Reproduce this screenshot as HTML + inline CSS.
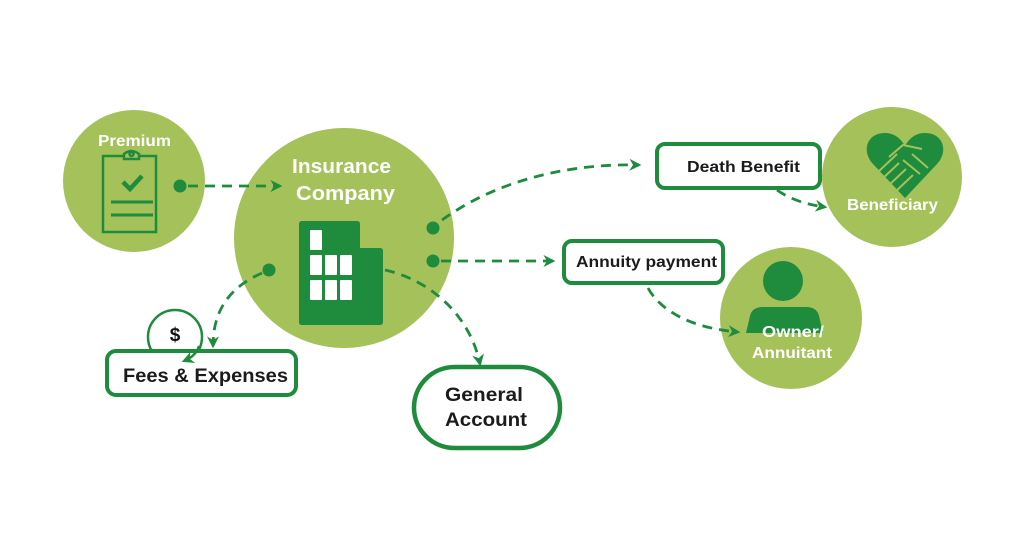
<!DOCTYPE html>
<html><head><meta charset="utf-8"><style>
html,body{margin:0;padding:0;background:#fff;}
svg{display:block;}
text{font-family:"Liberation Sans",Arial,sans-serif;font-weight:bold;}
</style></head><body>
<svg width="1024" height="546" viewBox="0 0 1024 546" xmlns="http://www.w3.org/2000/svg">
<defs>
<marker id="ah" viewBox="0 0 10 10" refX="8" refY="5" markerWidth="12" markerHeight="12" markerUnits="userSpaceOnUse" orient="auto">
<path d="M0,0 L10,5 L0,10 L3,5 Z" fill="#1e8b3d"/>
</marker>
</defs>
<rect width="1024" height="546" fill="#fff"/>

<!-- circles -->
<circle cx="134" cy="181" r="71" fill="#a5c15a"/>
<circle cx="344" cy="238" r="110" fill="#a5c15a"/>
<circle cx="892" cy="177" r="70" fill="#a5c15a"/>
<circle cx="791" cy="318" r="71" fill="#a5c15a"/>

<!-- Premium clipboard -->
<g fill="none" stroke="#1e8b3d" stroke-width="2.5">
<path d="M124,156 L103,156 L103,232 L156,232 L156,156 L139,156"/>
<path d="M124,159 L124,154 Q131,148 139,154 L139,159 Z"/>
<circle cx="131.5" cy="154" r="2"/>
</g>
<path d="M123,182 L130,189 L142,176" fill="none" stroke="#1e8b3d" stroke-width="4.5"/>
<line x1="111" y1="202" x2="153" y2="202" stroke="#1e8b3d" stroke-width="3"/>
<line x1="111" y1="215" x2="153" y2="215" stroke="#1e8b3d" stroke-width="3"/>
<text x="134.5" y="146" font-size="16" fill="#fff" text-anchor="middle" textLength="73" lengthAdjust="spacingAndGlyphs">Premium</text>

<!-- Insurance Company -->
<text x="341.5" y="173" font-size="20" fill="#fff" text-anchor="middle" textLength="99" lengthAdjust="spacingAndGlyphs">Insurance</text>
<text x="345.5" y="200" font-size="20" fill="#fff" text-anchor="middle" textLength="99" lengthAdjust="spacingAndGlyphs">Company</text>
<path d="M302,221 L357,221 Q360,221 360,224 L360,248 L380,248 Q383,248 383,251 L383,322 Q383,325 380,325 L302,325 Q299,325 299,322 L299,224 Q299,221 302,221 Z" fill="#1e8b3d"/>
<g fill="#fff">
<rect x="310" y="230" width="12" height="20" rx="1"/>
<rect x="310" y="255" width="12" height="20" rx="1"/>
<rect x="325" y="255" width="12" height="20" rx="1"/>
<rect x="340" y="255" width="12" height="20" rx="1"/>
<rect x="310" y="280" width="12" height="20" rx="1"/>
<rect x="325" y="280" width="12" height="20" rx="1"/>
<rect x="340" y="280" width="12" height="20" rx="1"/>
</g>

<!-- dots -->
<g fill="#1e8b3d">
<circle cx="180" cy="186" r="6.5"/>
<circle cx="433" cy="228" r="6.5"/>
<circle cx="433" cy="261" r="6.5"/>
<circle cx="269" cy="270" r="6.5"/>
</g>

<!-- dashed connectors -->
<g fill="none" stroke="#1e8b3d" stroke-width="2.8" stroke-dasharray="10 7" marker-end="url(#ah)">
<path d="M188,186 L280,186"/>
<path d="M442,220 C490,185 560,163 639,165"/>
<path d="M441,261 L553,261"/>
<path d="M262,273 C235,285 213,305 213,346"/>
<path d="M385,270 C430,280 470,315 480,364"/>
<path d="M777,190 Q795,203 825,207"/>
<path d="M648,288 C660,310 690,328 738,332"/>
</g>

<!-- $ circle -->
<circle cx="175" cy="337" r="27" fill="none" stroke="#1e8b3d" stroke-width="2.5"/>
<text x="175" y="341" font-size="19" fill="#111" text-anchor="middle">$</text>

<!-- Fees box -->
<rect x="107" y="351" width="189" height="44" rx="9" fill="#fff" stroke="#1e8b3d" stroke-width="4"/>
<path d="M199,346 Q196,356 184,361" fill="none" stroke="#1e8b3d" stroke-width="2.5" marker-end="url(#ah)"/>
<text x="205.5" y="382" font-size="19" fill="#1b1b1b" text-anchor="middle" textLength="165" lengthAdjust="spacingAndGlyphs">Fees &amp; Expenses</text>

<!-- General Account -->
<rect x="414" y="367" width="146" height="81" rx="40.5" fill="#fff" stroke="#1e8b3d" stroke-width="4.5"/>
<text x="484" y="401" font-size="19" fill="#1b1b1b" text-anchor="middle" textLength="78" lengthAdjust="spacingAndGlyphs">General</text>
<text x="486" y="426" font-size="19" fill="#1b1b1b" text-anchor="middle" textLength="82" lengthAdjust="spacingAndGlyphs">Account</text>

<!-- Death Benefit -->
<rect x="657" y="144" width="163" height="44" rx="8" fill="#fff" stroke="#1e8b3d" stroke-width="4"/>
<text x="743.5" y="172" font-size="16" fill="#1b1b1b" text-anchor="middle" textLength="113" lengthAdjust="spacingAndGlyphs">Death Benefit</text>

<!-- Beneficiary heart -->
<path d="M905,198 L873,164 C861,151 867,133 885,133 C895,133 901,139 905,146 C909,139 915,133 925,133 C943,133 949,151 937,164 Z" fill="#1e8b3d"/>
<g fill="none" stroke="#a5c15a" stroke-width="2">
<path d="M889,157 L903,145 L922,149"/>
<path d="M878,172 L897,154"/>
<path d="M880,181 L899,163"/>
<path d="M887,187 L906,169"/>
<path d="M894,193 L913,175"/>
<path d="M903,160 L920,174"/>
<path d="M912,154 L928,168"/>
</g>
<text x="892.5" y="210" font-size="16" fill="#fff" text-anchor="middle" textLength="91" lengthAdjust="spacingAndGlyphs">Beneficiary</text>

<!-- Annuity payment -->
<rect x="564" y="241" width="159" height="42" rx="8" fill="#fff" stroke="#1e8b3d" stroke-width="4"/>
<text x="646.5" y="267" font-size="16" fill="#1b1b1b" text-anchor="middle" textLength="141" lengthAdjust="spacingAndGlyphs">Annuity payment</text>

<!-- Owner person -->
<circle cx="783" cy="281" r="20" fill="#1e8b3d"/>
<path d="M746,333 L750,316 Q752,307 763,307 L806,307 Q817,307 819,316 L823,333 Z" fill="#1e8b3d"/>
<text x="793" y="337" font-size="16" fill="#fff" text-anchor="middle" textLength="62" lengthAdjust="spacingAndGlyphs">Owner/</text>
<text x="792" y="358" font-size="16" fill="#fff" text-anchor="middle" textLength="80" lengthAdjust="spacingAndGlyphs">Annuitant</text>
</svg>
</body></html>
